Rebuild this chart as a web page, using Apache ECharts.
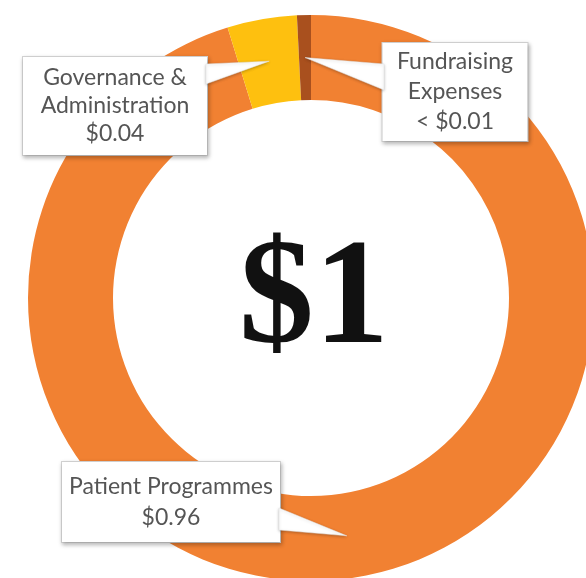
<!DOCTYPE html>
<html>
<head>
<meta charset="utf-8">
<script src="https://cdn.jsdelivr.net/npm/echarts@6/dist/echarts.min.js"></script>
<style>
  html, body { margin: 0; padding: 0; background: #fff; }
  #demo { width: 586px; height: 578px; }
</style>
</head>
<body>
<div id="demo"></div>
<script>
// 数据
var categories = ['Patient Programmes', 'Governance &\nAdministration', 'Fundraising\nExpenses'];
var values = [0.96, 0.04, 0.008];
var valueLabels = ['$0.96', '$0.04', '< $0.01'];
var colors = ['#F18132', '#FEC00F', '#A9501E'];

// 环形图的位置和大小
var cx = 311, cy = 298;
var rIn = 198, rOut = 283;

// 每个说明框: 中心点, 宽度, 行高, 上下留白, 尖角底边
var boxes = [
    { x: 171, y: 502, w: 218, lh: 31, pad: 9, base: [[279, 508], [279, 530]] },
    { x: 115, y: 106, w: 184, lh: 28, pad: 7, base: [[206, 64], [206, 84]] },
    { x: 455, y: 92, w: 145, lh: 30, pad: 4, base: [[384, 64], [384, 90]] }
];

var total = 0;
for (var i = 0; i < values.length; i++) total += values[i];

var params = [];
var wedges = [];
var acc = 0;
for (var i = 0; i < values.length; i++) {
    var b = boxes[i];
    params.push({
        name: categories[i],
        value: values[i],
        itemStyle: { color: colors[i] },
        label: { width: b.w, lineHeight: b.lh, padding: [b.pad, 0, b.pad, 0] }
    });
    // 尖角指向扇区中间
    var mid = (acc + values[i] / 2) / total * Math.PI * 2;
    acc += values[i];
    var rm = (rIn + rOut) / 2;
    var tip = [cx + rm * Math.sin(mid), cy - rm * Math.cos(mid)];
    wedges.push({
        type: 'polygon',
        z: 3,
        silent: true,
        shape: { points: [b.base[0], tip, b.base[1]] },
        style: {
            fill: '#fff',
            stroke: '#e2e2e2',
            lineWidth: 0.5,
            shadowBlur: 3,
            shadowColor: 'rgba(0,0,0,0.25)',
            shadowOffsetY: 1
        }
    });
}

wedges.push({
    type: 'text',
    z: 5,
    silent: true,
    x: cx + 3,
    y: cy + 5,
    style: {
        text: '$1',
        fill: '#111',
        font: 'bold 150px "Liberation Serif"',
        align: 'center',
        verticalAlign: 'middle'
    }
});

var chartDom = document.getElementById('demo');
var myChart = echarts.init(chartDom);
var option = {
    animation: false,
    graphic: wedges,
    series: [
        {
            type: 'pie',
            silent: true,
            center: [cx, cy],
            radius: [rIn, rOut],
            startAngle: 90,
            clockwise: true,
            avoidLabelOverlap: false,
            data: params,
            label: {
                show: true,
                position: 'outside',
                formatter: function (p) {
                    return p.name + '\n' + valueLabels[p.dataIndex];
                },
                fontFamily: 'Lato',
                fontSize: 23,
                color: '#555555',
                align: 'center',
                backgroundColor: '#fff',
                borderColor: '#d4d4d4',
                borderWidth: 1,
                shadowColor: 'rgba(0,0,0,0.25)',
                shadowBlur: 4,
                shadowOffsetX: 1,
                shadowOffsetY: 2
            },
            labelLine: { show: false },
            labelLayout: function (p) {
                var b = boxes[p.dataIndex];
                return { x: b.x, y: b.y, align: 'center', verticalAlign: 'middle', hideOverlap: false };
            }
        }
    ]
};
option && myChart.setOption(option);
</script>
</body>
</html>
